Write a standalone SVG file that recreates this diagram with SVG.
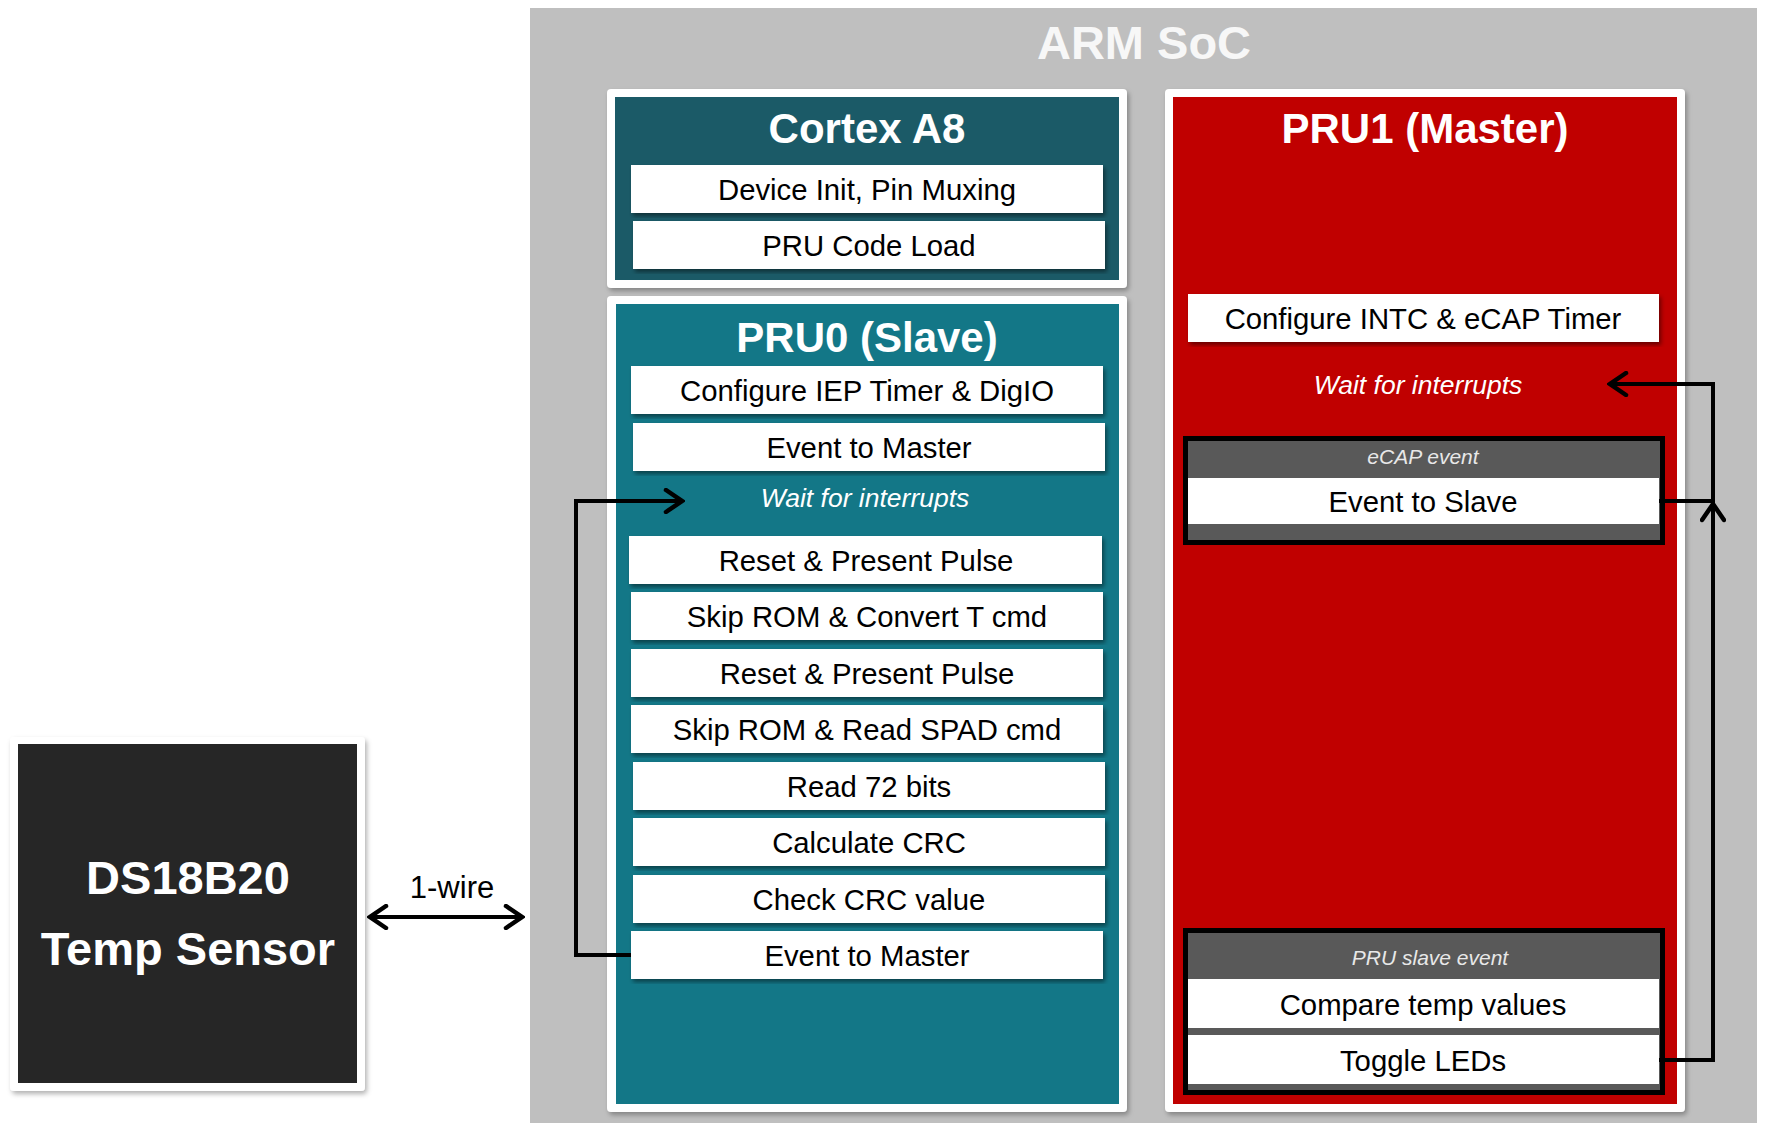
<svg xmlns="http://www.w3.org/2000/svg" width="1772" height="1123" viewBox="0 0 1772 1123">
<defs>
<filter id="sh" x="-5%" y="-5%" width="110%" height="115%">
<feDropShadow dx="2" dy="3" stdDeviation="2" flood-color="#000" flood-opacity="0.45"/>
</filter>
<filter id="sh2" x="-5%" y="-5%" width="110%" height="110%">
<feDropShadow dx="2" dy="3" stdDeviation="2.5" flood-color="#000" flood-opacity="0.3"/>
</filter>
<marker id="ar" viewBox="0 0 22 26" refX="19" refY="13" markerWidth="22" markerHeight="26" markerUnits="userSpaceOnUse" orient="auto-start-reverse">
<path d="M3,2 L19,13 L3,24" fill="none" stroke="#000" stroke-width="4.5" stroke-linecap="round" stroke-linejoin="miter"/>
</marker>
</defs>
<style>
text{font-family:"Liberation Sans",Arial,sans-serif;text-anchor:middle}
.title{font-weight:bold;font-size:42px;fill:#ffffff}
.item{fill:#ffffff;filter:url(#sh)}
.it{font-size:29.3px;fill:#000}
.wait{font-size:26.5px;font-style:italic;fill:#ffffff}
.ev{font-size:21px;font-style:italic;fill:#e8e8e8}
.frame{fill:#ffffff;filter:url(#sh2)}
.conn{fill:none;stroke:#000;stroke-width:4}
</style>
<rect width="1772" height="1123" fill="#ffffff"/>

<g id="arm-soc">
<rect x="530" y="8" width="1227" height="1115" fill="#bfbfbf"/>
<text x="1144" y="59" style="font-weight:bold;font-size:47px;fill:#f7f7f7">ARM SoC</text>
</g>

<g id="cortex-a8">
<rect class="frame" x="607" y="89" width="520" height="199" rx="4"/>
<rect x="615" y="97" width="504" height="183" fill="#1b5a67"/>
<text class="title" x="867" y="143">Cortex A8</text>
<rect class="item" x="631" y="165" width="472" height="48"/>
<text class="it" x="867" y="200">Device Init, Pin Muxing</text>
<rect class="item" x="633" y="221" width="472" height="48"/>
<text class="it" x="869" y="256">PRU Code Load</text>
</g>

<g id="pru0">
<rect class="frame" x="607" y="296" width="520" height="816" rx="4"/>
<rect x="616" y="304" width="503" height="800" fill="#137787"/>
<text class="title" x="867" y="352">PRU0 (Slave)</text>
<rect class="item" x="631" y="366" width="472" height="48"/>
<text class="it" x="867" y="401">Configure IEP Timer &amp; DigIO</text>
<rect class="item" x="633" y="423" width="472" height="48"/>
<text class="it" x="869" y="458">Event to Master</text>
<text class="wait" x="865" y="507">Wait for interrupts</text>
<rect class="item" x="629" y="536" width="473" height="48"/>
<text class="it" x="866" y="571">Reset &amp; Present Pulse</text>
<rect class="item" x="631" y="592" width="472" height="48"/>
<text class="it" x="867" y="627">Skip ROM &amp; Convert T cmd</text>
<rect class="item" x="631" y="649" width="472" height="48"/>
<text class="it" x="867" y="684">Reset &amp; Present Pulse</text>
<rect class="item" x="631" y="705" width="472" height="48"/>
<text class="it" x="867" y="740">Skip ROM &amp; Read SPAD cmd</text>
<rect class="item" x="633" y="762" width="472" height="48"/>
<text class="it" x="869" y="797">Read 72 bits</text>
<rect class="item" x="633" y="818" width="472" height="48"/>
<text class="it" x="869" y="853">Calculate CRC</text>
<rect class="item" x="633" y="875" width="472" height="48"/>
<text class="it" x="869" y="910">Check CRC value</text>
<rect class="item" x="631" y="931" width="472" height="48"/>
<text class="it" x="867" y="966">Event to Master</text>
</g>

<g id="pru1">
<rect class="frame" x="1165" y="89" width="520" height="1023" rx="4"/>
<rect x="1173" y="97" width="504" height="1007" fill="#c00000"/>
<text class="title" x="1425" y="143">PRU1 (Master)</text>
<rect class="item" x="1188" y="294" width="471" height="48"/>
<text class="it" x="1423" y="329">Configure INTC &amp; eCAP Timer</text>
<text class="wait" x="1418" y="394">Wait for interrupts</text>
<g id="ecap-event">
<rect x="1185.5" y="438.5" width="477" height="104" fill="#595959" stroke="#000" stroke-width="5"/>
<text class="ev" x="1423" y="464">eCAP event</text>
<rect x="1188" y="478" width="471" height="46" fill="#ffffff"/>
<text class="it" x="1423" y="512">Event to Slave</text>
</g>
<g id="pru-slave-event">
<rect x="1185.5" y="930.5" width="477" height="162" fill="#595959" stroke="#000" stroke-width="5"/>
<text class="ev" x="1430" y="965">PRU slave event</text>
<rect x="1188" y="979" width="471" height="49" fill="#ffffff"/>
<text class="it" x="1423" y="1015">Compare temp values</text>
<rect x="1188" y="1035" width="471" height="49" fill="#ffffff"/>
<text class="it" x="1423" y="1071">Toggle LEDs</text>
</g>
</g>

<g id="ds18b20">
<rect class="frame" x="10" y="737" width="355" height="354" rx="4"/>
<rect x="18" y="744" width="339" height="339" fill="#262626"/>
<text x="188" y="894" style="font-weight:bold;font-size:47px;fill:#ffffff">DS18B20</text>
<text x="188" y="965" style="font-weight:bold;font-size:47px;fill:#ffffff">Temp Sensor</text>
</g>

<g id="connectors">
<line class="conn" x1="370" y1="917" x2="522" y2="917" marker-start="url(#ar)" marker-end="url(#ar)"/>
<text x="452" y="898" style="font-size:31px;fill:#000">1-wire</text>
<path class="conn" d="M631,955 H576 V501 H682" marker-end="url(#ar)"/>
<path class="conn" d="M1659,501 H1713 V384 H1610" marker-end="url(#ar)"/>
<path class="conn" d="M1659,1060 H1713 V504" marker-end="url(#ar)"/>
</g>
</svg>
